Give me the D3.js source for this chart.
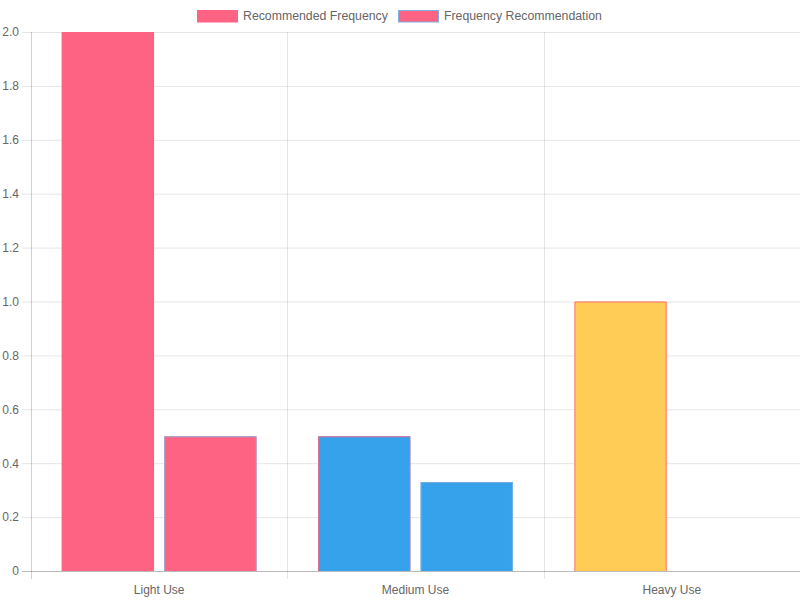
<!DOCTYPE html>
<html><head><meta charset="utf-8">
<script src="https://cdn.jsdelivr.net/npm/d3@7"></script>
<style>body{margin:0;background:#fff}svg{display:block;font-family:"Liberation Sans",Arial,Helvetica,sans-serif}</style>
</head><body>
<svg id="c" width="800" height="600"></svg>
<script>
const categories = ["Light Use", "Medium Use", "Heavy Use"];
const seriesNames = ["Recommended Frequency", "Frequency Recommendation"];
const recommendedFrequency = [2, 0.5, 1];
const frequencyRecommendation = [0.5, 0.33, 0];
const barColors = ["#FF6384", "#36A2EB", "#FFCD56"];
const seriesBorders = ["#FF6384", "#7FAEE0"];
const yTicks = [0, 0.2, 0.4, 0.6, 0.8, 1.0, 1.2, 1.4, 1.6, 1.8, 2.0];

(function () {
const series = [recommendedFrequency, frequencyRecommendation];
const svg = d3.select("#c");
const pL = 31, pR = 800, pT = 32, pB = 571;
const grid = "rgba(0,0,0,0.1)";

const x = d3.scaleBand().domain(categories).range([pL, pR]).paddingInner(0).paddingOuter(0);
const y = d3.scaleLinear().domain([0, 2]).range([pB, pT]);

// horizontal grid lines
const yAxis = d3.axisLeft(y).tickValues(yTicks).tickSize(-(pR - pL)).tickPadding(12)
  .tickFormat(d => d === 0 ? "0" : d3.format(".1f")(d));
const gy = svg.append("g").attr("transform", `translate(${pL},0)`).call(yAxis);
gy.select(".domain").remove();
gy.selectAll(".tick line").attr("stroke", grid).attr("x1", -9).attr("x2", pR - pL);
gy.selectAll(".tick text").attr("fill", "#666").attr("font-size", 12).attr("x", -12)
  .attr("font-family", "Liberation Sans, Arial, sans-serif");

// vertical grid lines
const vx = [pL, pL + x.bandwidth(), pL + 2 * x.bandwidth(), pR - 0.5];
svg.append("g").selectAll("line").data(vx).join("line")
  .attr("x1", d => Math.round(d) + 0.5).attr("x2", d => Math.round(d) + 0.5)
  .attr("y1", pT).attr("y2", pB + 8)
  .attr("stroke", (d, i) => i === 0 ? "rgba(0,0,0,0.18)" : grid);
svg.append("line").attr("x1", pL - 9).attr("x2", pR).attr("y1", pB + 0.5).attr("y2", pB + 0.5)
  .attr("stroke", "rgba(0,0,0,0.18)");

// x labels
const xAxis = d3.axisBottom(x).tickSize(0).tickPadding(14);
const gx = svg.append("g").attr("transform", `translate(0,${pB})`).call(xAxis);
gx.select(".domain").remove();
gx.selectAll(".tick text").attr("fill", "#666").attr("font-size", 12)
  .attr("font-family", "Liberation Sans, Arial, sans-serif");

// bars
const catPct = 0.8, barPct = 0.9;
const bw = x.bandwidth() * catPct / series.length * barPct;
const bx = (si, i) => {
  const cw = x.bandwidth() * catPct, slot = cw / series.length;
  return x(categories[i]) + (x.bandwidth() - cw) / 2 + slot * si + slot * (1 - barPct) / 2;
};
series.forEach((vals, si) => {
  const g = svg.append("g");
  g.selectAll("rect").data(vals).join("rect")
    .attr("x", (d, i) => bx(si, i))
    .attr("width", bw)
    .attr("y", d => y(d))
    .attr("height", d => pB - y(d))
    .attr("fill", (d, i) => barColors[i]);
  g.selectAll("path").data(vals.map((v, i) => ({v, i})).filter(o => o.v > 0)).join("path")
    .attr("d", o => {
      const x0 = bx(si, o.i) + 0.5, x1 = bx(si, o.i) + bw - 0.5, yt = y(o.v) + 0.5;
      return `M${x0},${pB}V${yt}H${x1}V${pB}`;
    })
    .attr("fill", "none")
    .attr("stroke", seriesBorders[si])
    .attr("stroke-opacity", 0.85)
    .attr("stroke-width", 1);
});

// legend
const legendItems = [{x: 197, name: seriesNames[0]}, {x: 398, name: seriesNames[1]}];
const lg = svg.append("g");
legendItems.forEach((it, i) => {
  lg.append("rect").attr("x", it.x + 0.5).attr("y", 10.5).attr("width", 40).attr("height", 11.5)
    .attr("fill", barColors[0]).attr("stroke", seriesBorders[i]).attr("stroke-width", 1);
  lg.append("text").attr("x", it.x + 46).attr("y", 20).text(it.name)
    .attr("fill", "#666").attr("font-size", 12.3);
});
})();
</script>
</body></html>
